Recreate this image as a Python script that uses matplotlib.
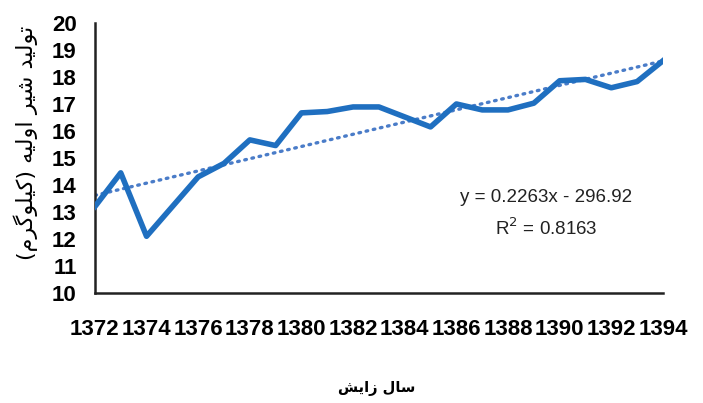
import numpy as np
import matplotlib.pyplot as plt

years = list(range(1372, 1395))
milk = [13.2, 14.45, 12.1, 13.2, 14.3, 14.8, 15.67, 15.46, 16.67, 16.72, 16.89, 16.89,
        16.52, 16.15, 17.0, 16.78, 16.78, 17.03, 17.86, 17.91, 17.6, 17.83, 18.6]
x_ticks = list(range(1372, 1395, 2))
y_ticks = list(range(10, 21))
equation = "y = 0.2263x - 296.92"
r_squared = "R$^2$ = 0.8163"

# Persian labels written with Arabic presentation forms (already joined),
# stored in logical order; visual() flips them for left-to-right drawing
ylabel_logical = ("\uFE97\uFEEE\uFEDF\uFEF4\uFEAA \uFEB7\uFEF4\uFEAE \uFE8D\uFEED\uFEDF\uFEF4\uFEEA "
                  "(\uFEDB\uFEF4\uFEE0\uFEEE\uFB94\uFEAE\uFEE1)")
xlabel_logical = "\uFEB3\uFE8E\uFEDD \uFEAF\uFE8D\uFEF3\uFEB6"


def visual(s):
    swap = {"(": ")", ")": "("}
    return "".join(swap.get(c, c) for c in reversed(s))


num_font = "Liberation Sans"

fig = plt.figure(figsize=(7.03, 4.03), dpi=100)
ax = fig.add_axes([0.135, 0.273, 0.808, 0.670])

ax.plot(years, milk, color="#1F6FC0", lw=4.0, solid_joinstyle="round", zorder=3)

# linear trend
coef = np.polyfit(years, milk, 1)
ax.plot(years, np.polyval(coef, years), color="#4A7CC8", lw=2.4, ls=(0, (0.5, 1.7)),
        dash_capstyle="round", zorder=2)

ax.set_xlim(1372, 1394)
ax.set_ylim(10, 20)
ax.set_xticks(x_ticks)
ax.set_yticks(y_ticks)
ax.tick_params(length=0)
ax.tick_params(axis="x", pad=19)
ax.tick_params(axis="y", pad=13)
for lab in ax.get_xticklabels() + ax.get_yticklabels():
    lab.set_fontfamily(num_font)
    lab.set_fontweight("bold")
    lab.set_fontsize(16)

for side in ["top", "right"]:
    ax.spines[side].set_visible(False)
for side in ["left", "bottom"]:
    ax.spines[side].set_linewidth(1.8)
    ax.spines[side].set_color("#222222")

ax.text(0.794, 0.352, equation, transform=ax.transAxes, ha="center", va="center",
        fontsize=13.5, family=num_font, color="#222222")
ax.text(0.794, 0.241, r_squared, transform=ax.transAxes, ha="center", va="center",
        fontsize=13.5, family=num_font, color="#222222")

fig.text(0.036, 0.645, visual(ylabel_logical), rotation=90, ha="center", va="center",
         fontsize=16, family="DejaVu Sans")
fig.text(0.536, 0.037, visual(xlabel_logical), ha="center", va="center",
         fontsize=10.5, family="DejaVu Sans", fontweight="bold")

fig.savefig("out.png", dpi=100)
